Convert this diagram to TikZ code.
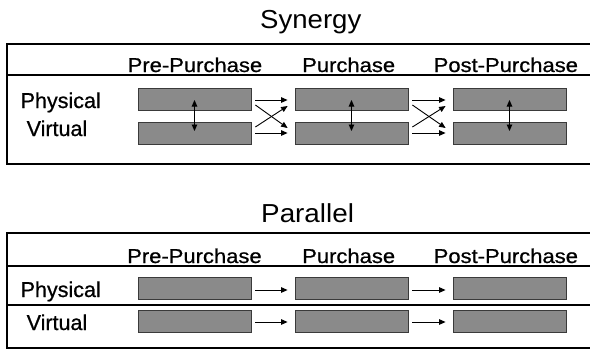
\documentclass[tikz,border=0pt]{standalone}
\usepackage{fontspec}
\usepackage{graphicx}
\setmainfont{Liberation Sans}
\newfontfamily\heavyfont[FakeBold=0.7]{Liberation Sans}
\usetikzlibrary{arrows.meta,calc}
\definecolor{boxfill}{HTML}{8A8A8A}
\definecolor{boxline}{HTML}{3A3A3A}
\begin{document}
\begin{tikzpicture}[x=1pt,y=-1pt,
  frame/.style={line width=2pt,black},
  stage/.style={rectangle,draw=boxline,fill=boxfill,line width=0.8pt,minimum width=113pt,minimum height=22pt,inner sep=0pt},
  arr/.style={-{Triangle[length=6.5pt,width=5.5pt]},line width=0.9pt},
  dblarr/.style={{Triangle[length=6.5pt,width=5.5pt]}-{Triangle[length=6.5pt,width=5.5pt]},line width=0.9pt},
  title/.style={anchor=base west,inner sep=0pt,font=\fontsize{26}{30}\selectfont},
  head/.style={anchor=base west,inner sep=0pt,font=\heavyfont\fontsize{20}{24}\selectfont},
  rowlab/.style={anchor=base west,inner sep=0pt,font=\heavyfont\fontsize{21.5}{25}\selectfont}]
\useasboundingbox (0,0) rectangle (590,351);

% ---------- Synergy ----------
\node[title] (t1) at (260,28) {\scalebox{1.06}[1]{Synergy}};
\draw[frame] (590,44) -- (7,44) -- (7,163.5) -- (590,163.5);
\draw[frame] (7,75) -- (590,75);
\node[head] (h1) at (127.5,72) {\scalebox{1.1}[1]{Pre-Purchase}};
\node[head] (h2) at (302,72) {\scalebox{1.1}[1]{Purchase}};
\node[head] (h3) at (433.5,72) {\scalebox{1.1}[1]{Post-Purchase}};
\node[rowlab] (r1) at (20.5,108) {Physical};
\node[rowlab] (r2) at (26.5,136) {Virtual};

\node[stage] (p1) at (194.5,99) {};
\node[stage] (p2) at (351.5,99) {};
\node[stage] (p3) at (509.5,99) {};
\node[stage] (v1) at (194.5,133) {};
\node[stage] (v2) at (351.5,133) {};
\node[stage] (v3) at (509.5,133) {};

\foreach \i in {1,2,3}{
  \draw[dblarr,shorten <=1pt,shorten >=2pt] (p\i.center) -- (v\i.center);
}
\foreach \a/\b in {1/2,2/3}{
  \draw[arr] ($(p\a.east)+(4,1)$) -- ($(p\b.west)+(-7,1)$);
  \draw[arr] ($(v\a.east)+(4,0)$) -- ($(v\b.west)+(-7,0)$);
  \draw[arr] ($(p\a.east)+(4,6)$) -- ($(v\b.west)+(-7,-5)$);
  \draw[arr] ($(v\a.east)+(4,-6)$) -- ($(p\b.west)+(-7,7)$);
}

% ---------- Parallel ----------
\node[title] (t2) at (261,222) {\scalebox{1.07}[1]{Parallel}};
\draw[frame] (590,233) -- (7,233) -- (7,348) -- (590,348);
\draw[frame] (7,266) -- (590,266);
\draw[frame] (7,305) -- (590,305);
\node[head] (k1) at (127,263) {\scalebox{1.1}[1]{Pre-Purchase}};
\node[head] (k2) at (302,263) {\scalebox{1.1}[1]{Purchase}};
\node[head] (k3) at (433.5,263) {\scalebox{1.1}[1]{Post-Purchase}};
\node[rowlab] (s1) at (20.5,297) {Physical};
\node[rowlab] (s2) at (26.5,330) {Virtual};

\node[stage] (q1) at (194.5,288) {};
\node[stage] (q2) at (351.5,288) {};
\node[stage] (q3) at (509.5,288) {};
\node[stage] (w1) at (194.5,321.5) {};
\node[stage] (w2) at (351.5,321.5) {};
\node[stage] (w3) at (509.5,321.5) {};

\foreach \a/\b in {1/2,2/3}{
  \draw[arr] ($(q\a.east)+(4,2)$) -- ($(q\b.west)+(-7,2)$);
  \draw[arr] ($(w\a.east)+(4,0.5)$) -- ($(w\b.west)+(-7,0.5)$);
}
\end{tikzpicture}
\end{document}
